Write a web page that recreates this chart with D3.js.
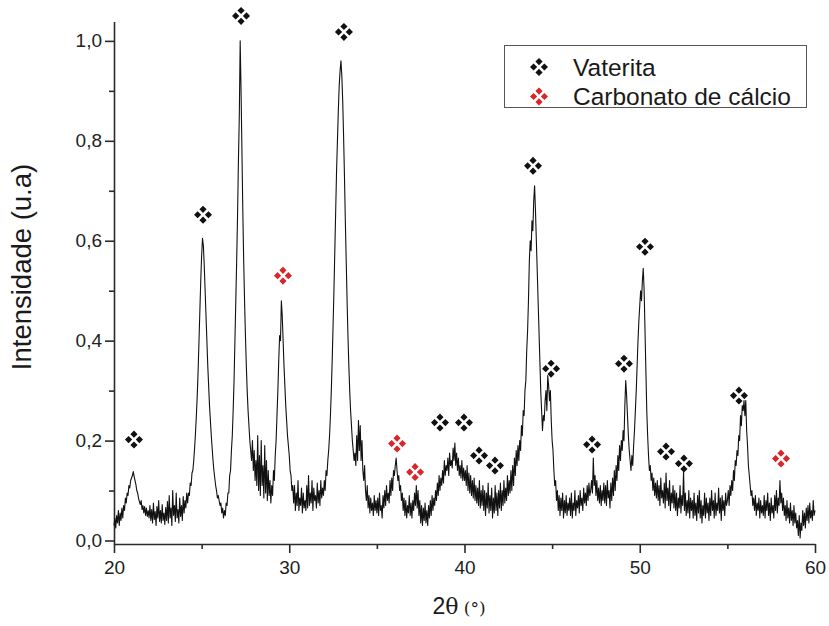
<!DOCTYPE html>
<html>
<head>
<meta charset="utf-8">
<script src="https://cdn.jsdelivr.net/npm/d3@7"></script>
<style>
  html, body { margin: 0; padding: 0; background: #fff; }
  svg { display: block; font-family: "Liberation Sans", Arial, sans-serif; }
</style>
</head>
<body>
<svg id="chart" width="829" height="626"></svg>
<script>
// Diffraction scan: 20°–60° in 0.05° steps, one row per degree
const thetaStart = 20;
const thetaStep = 0.05;
const intensity = [
  0.030,0.045,0.025,0.050,0.035,0.060,0.030,0.055,0.040,0.065,0.045,0.070,0.060,0.085,0.075,0.095,0.090,0.110,0.105,0.120, // 20
  0.125,0.130,0.138,0.128,0.120,0.112,0.100,0.095,0.085,0.078,0.072,0.080,0.062,0.070,0.055,0.068,0.050,0.065,0.048,0.060, // 21
  0.045,0.070,0.040,0.062,0.035,0.075,0.042,0.058,0.030,0.068,0.045,0.080,0.038,0.060,0.035,0.072,0.040,0.055,0.032,0.066, // 22
  0.040,0.078,0.035,0.090,0.045,0.065,0.030,0.100,0.050,0.070,0.038,0.095,0.045,0.062,0.035,0.085,0.048,0.070,0.040,0.088, // 23
  0.055,0.080,0.065,0.095,0.075,0.095,0.090,0.115,0.110,0.135,0.140,0.160,0.185,0.215,0.250,0.290,0.340,0.400,0.460,0.520, // 24
  0.570,0.605,0.590,0.550,0.500,0.450,0.400,0.350,0.310,0.270,0.240,0.210,0.185,0.160,0.140,0.125,0.110,0.100,0.085,0.090, // 25
  0.080,0.070,0.075,0.055,0.065,0.045,0.060,0.050,0.075,0.070,0.095,0.095,0.130,0.140,0.180,0.210,0.260,0.320,0.400,0.480, // 26
  0.560,0.650,0.760,0.850,1.000,0.900,0.780,0.660,0.560,0.480,0.410,0.350,0.300,0.260,0.230,0.200,0.180,0.160,0.200,0.140, // 27
  0.180,0.120,0.160,0.110,0.210,0.100,0.170,0.090,0.200,0.110,0.150,0.085,0.190,0.095,0.160,0.080,0.140,0.090,0.120,0.075, // 28
  0.110,0.090,0.140,0.120,0.170,0.200,0.250,0.300,0.360,0.410,0.400,0.480,0.450,0.400,0.350,0.310,0.270,0.240,0.210,0.190, // 29
  0.170,0.140,0.130,0.100,0.110,0.075,0.110,0.060,0.095,0.070,0.120,0.060,0.085,0.070,0.105,0.055,0.095,0.065,0.080,0.060, // 30
  0.110,0.065,0.130,0.070,0.095,0.075,0.120,0.060,0.105,0.080,0.090,0.065,0.115,0.075,0.100,0.070,0.120,0.085,0.105,0.090, // 31
  0.120,0.100,0.140,0.130,0.160,0.180,0.210,0.250,0.300,0.360,0.430,0.500,0.580,0.660,0.740,0.800,0.860,0.910,0.940,0.960, // 32
  0.930,0.880,0.810,0.730,0.640,0.560,0.480,0.410,0.350,0.300,0.260,0.230,0.200,0.180,0.160,0.175,0.150,0.210,0.160,0.240, // 33
  0.180,0.230,0.160,0.200,0.140,0.120,0.150,0.100,0.080,0.110,0.065,0.090,0.055,0.085,0.060,0.075,0.050,0.090,0.060,0.080, // 34
  0.055,0.085,0.050,0.095,0.060,0.070,0.045,0.090,0.065,0.100,0.070,0.110,0.080,0.095,0.075,0.120,0.090,0.125,0.100,0.140, // 35
  0.130,0.150,0.165,0.140,0.120,0.130,0.100,0.110,0.080,0.095,0.060,0.085,0.050,0.080,0.045,0.070,0.055,0.090,0.050,0.075, // 36
  0.045,0.080,0.060,0.095,0.070,0.110,0.065,0.100,0.050,0.080,0.035,0.070,0.030,0.065,0.040,0.075,0.035,0.060,0.030,0.070, // 37
  0.045,0.080,0.050,0.090,0.060,0.085,0.070,0.100,0.080,0.115,0.090,0.130,0.100,0.125,0.110,0.140,0.115,0.160,0.130,0.150, // 38
  0.140,0.165,0.130,0.175,0.150,0.160,0.145,0.185,0.160,0.195,0.150,0.175,0.140,0.165,0.130,0.150,0.125,0.160,0.120,0.145, // 39
  0.120,0.140,0.110,0.150,0.100,0.135,0.095,0.130,0.090,0.120,0.085,0.125,0.080,0.110,0.075,0.105,0.070,0.120,0.065,0.100, // 40
  0.070,0.110,0.060,0.100,0.050,0.095,0.065,0.115,0.055,0.090,0.060,0.105,0.045,0.085,0.055,0.110,0.060,0.095,0.050,0.100, // 41
  0.065,0.115,0.060,0.100,0.070,0.120,0.075,0.105,0.080,0.130,0.090,0.120,0.095,0.140,0.100,0.150,0.110,0.165,0.130,0.180, // 42
  0.150,0.190,0.160,0.200,0.180,0.230,0.210,0.260,0.250,0.300,0.320,0.380,0.420,0.480,0.560,0.600,0.580,0.640,0.620,0.680, // 43
  0.710,0.660,0.600,0.540,0.480,0.420,0.360,0.300,0.260,0.220,0.250,0.240,0.280,0.300,0.260,0.330,0.310,0.280,0.300,0.240, // 44
  0.200,0.180,0.140,0.110,0.120,0.080,0.100,0.060,0.090,0.050,0.085,0.060,0.095,0.045,0.080,0.055,0.090,0.050,0.075,0.060, // 45
  0.085,0.050,0.095,0.045,0.075,0.060,0.100,0.050,0.080,0.065,0.090,0.055,0.100,0.070,0.085,0.060,0.105,0.075,0.095,0.070, // 46
  0.110,0.080,0.115,0.090,0.100,0.120,0.095,0.165,0.110,0.130,0.090,0.120,0.080,0.105,0.075,0.110,0.070,0.100,0.080,0.115, // 47
  0.075,0.110,0.070,0.120,0.085,0.100,0.065,0.115,0.080,0.125,0.090,0.140,0.100,0.150,0.120,0.170,0.140,0.190,0.160,0.200, // 48
  0.180,0.220,0.200,0.270,0.320,0.290,0.250,0.210,0.180,0.160,0.140,0.170,0.150,0.190,0.220,0.260,0.300,0.350,0.400,0.440, // 49
  0.470,0.500,0.480,0.520,0.545,0.500,0.420,0.340,0.260,0.210,0.170,0.140,0.150,0.120,0.135,0.100,0.125,0.090,0.115,0.085, // 50
  0.120,0.080,0.110,0.070,0.125,0.085,0.100,0.075,0.115,0.065,0.135,0.080,0.105,0.070,0.120,0.060,0.095,0.075,0.110,0.065, // 51
  0.100,0.060,0.095,0.050,0.085,0.065,0.110,0.055,0.090,0.070,0.140,0.060,0.095,0.050,0.080,0.055,0.100,0.045,0.085,0.060, // 52
  0.080,0.045,0.095,0.050,0.075,0.040,0.090,0.055,0.100,0.045,0.080,0.035,0.070,0.050,0.095,0.045,0.085,0.055,0.075,0.040, // 53
  0.085,0.050,0.100,0.060,0.080,0.045,0.095,0.050,0.075,0.060,0.105,0.055,0.085,0.040,0.090,0.060,0.080,0.050,0.095,0.070, // 54
  0.080,0.100,0.070,0.110,0.090,0.120,0.100,0.140,0.120,0.160,0.150,0.180,0.170,0.210,0.200,0.250,0.230,0.270,0.260,0.280, // 55
  0.250,0.280,0.220,0.190,0.150,0.130,0.110,0.090,0.100,0.070,0.085,0.060,0.090,0.050,0.075,0.060,0.085,0.045,0.080,0.055, // 56
  0.070,0.050,0.090,0.045,0.080,0.060,0.095,0.050,0.075,0.040,0.085,0.055,0.070,0.045,0.090,0.060,0.100,0.055,0.085,0.070, // 57
  0.120,0.075,0.095,0.060,0.085,0.050,0.070,0.040,0.080,0.045,0.065,0.035,0.075,0.040,0.060,0.030,0.070,0.035,0.055,0.025, // 58
  0.040,0.010,0.050,0.005,0.035,0.020,0.060,0.030,0.055,0.025,0.065,0.040,0.070,0.035,0.075,0.045,0.060,0.040,0.080,0.050, // 59
  0.060                                                                                                                       // 60
];

// Phase identification marks (2θ, height at which the mark sits)
const vateritaTheta = [21.14, 25.08, 27.25, 33.12, 38.60, 39.97, 40.83, 41.74, 43.91, 44.94, 47.28, 49.10, 50.30, 51.50, 52.52, 55.66];
const vateritaLevel = [0.202, 0.652, 1.050, 1.018, 0.236, 0.236, 0.170, 0.150, 0.750, 0.344, 0.192, 0.354, 0.588, 0.178, 0.154, 0.290];
const carbonatoTheta = [29.64, 36.15, 37.18, 58.06];
const carbonatoLevel = [0.530, 0.194, 0.137, 0.164];

const xTicksMajor = [20, 30, 40, 50, 60];
const xTicksMinor = [25, 35, 45, 55];
const yTicksMajor = [0, 0.2, 0.4, 0.6, 0.8, 1.0];
const yTicksMinor = [0.1, 0.3, 0.5, 0.7, 0.9];

const legendLabels = ["Vaterita", "Carbonato de cálcio"];
const markColors = ["#111111", "#d8262c"];

const svg = d3.select("#chart");

const x = d3.scaleLinear().domain([20, 60]).range([114, 815]);
const y = d3.scaleLinear().domain([-0.007, 1.039]).range([544, 21.4]);

const axisColor = "#2a2a2a";
const decimalComma = d => d3.format(".1f")(d).replace(".", ",");

// Bottom axis, major and minor ticks
const gx = svg.append("g").attr("transform", `translate(0,${y.range()[0]})`);
gx.call(d3.axisBottom(x).tickValues(xTicksMajor).tickSize(9).tickSizeOuter(0).tickPadding(8).tickFormat(d3.format("d")));
const gxm = svg.append("g").attr("transform", `translate(0,${y.range()[0]})`);
gxm.call(d3.axisBottom(x).tickValues(xTicksMinor).tickSize(5).tickSizeOuter(0).tickFormat(""));
gxm.select(".domain").remove();

// Left axis, major and minor ticks
const gy = svg.append("g").attr("transform", `translate(${x.range()[0]},0)`);
gy.call(d3.axisLeft(y).tickValues(yTicksMajor).tickSize(9).tickSizeOuter(0).tickPadding(3).tickFormat(decimalComma));
const gym = svg.append("g").attr("transform", `translate(${x.range()[0]},0)`);
gym.call(d3.axisLeft(y).tickValues(yTicksMinor).tickSize(5).tickSizeOuter(0).tickFormat(""));
gym.select(".domain").remove();

svg.selectAll(".domain, .tick line").attr("stroke", axisColor).attr("stroke-width", 1.6);
svg.selectAll(".tick text").attr("fill", "#222").style("font-size", "19px").style("font-family", "Liberation Sans, Arial, sans-serif");

// Diffraction trace
const scan = intensity.map((v, i) => ({ t: thetaStart + i * thetaStep, v }));
svg.append("path")
  .datum(scan)
  .attr("fill", "none")
  .attr("stroke", "#111")
  .attr("stroke-width", 1.1)
  .attr("stroke-linejoin", "round")
  .attr("d", d3.line().x(d => x(d.t)).y(d => y(d.v)));

// Four-diamond mark
function fourDiamonds(g, cx, cy, color) {
  const off = 5.4, r = 3.6;
  const diamond = (dx, dy) => `M${cx + dx},${cy + dy - r}L${cx + dx + r},${cy + dy}L${cx + dx},${cy + dy + r}L${cx + dx - r},${cy + dy}Z`;
  g.append("path")
    .attr("d", diamond(0, -off) + diamond(-off, 0) + diamond(off, 0) + diamond(0, off))
    .attr("fill", color);
}

const marks = svg.append("g");
vateritaTheta.forEach((t, i) => fourDiamonds(marks, x(t), y(vateritaLevel[i]), markColors[0]));
carbonatoTheta.forEach((t, i) => fourDiamonds(marks, x(t), y(carbonatoLevel[i]), markColors[1]));

// Legend
const legend = svg.append("g");
legend.append("rect")
  .attr("x", 504.5).attr("y", 45.5).attr("width", 302).attr("height", 62)
  .attr("fill", "#fff").attr("stroke", "#555").attr("stroke-width", 1);
legendLabels.forEach((label, i) => {
  const cy = 67 + i * 29.5;
  fourDiamonds(legend, 539, cy, markColors[i]);
  legend.append("text")
    .attr("x", 573).attr("y", cy + 8.5)
    .attr("fill", "#1a1a1a")
    .style("font-size", "24.5px")
    .text(label);
});

// Axis titles
const xTitle = svg.append("text")
  .attr("x", 459).attr("y", 614)
  .attr("text-anchor", "middle")
  .attr("fill", "#1a1a1a");
xTitle.append("tspan").style("font-size", "23px").text("2");
xTitle.append("tspan").style("font-size", "22px").style("font-family", "DejaVu Serif, serif").text("θ");
xTitle.append("tspan").style("font-size", "17px").style("font-family", "DejaVu Serif, serif").text(" (°)");

svg.append("text")
  .attr("transform", "translate(31,267) rotate(-90)")
  .attr("text-anchor", "middle")
  .attr("fill", "#1a1a1a")
  .style("font-size", "27.5px")
  .text("Intensidade (u.a)");
</script>
</body>
</html>
